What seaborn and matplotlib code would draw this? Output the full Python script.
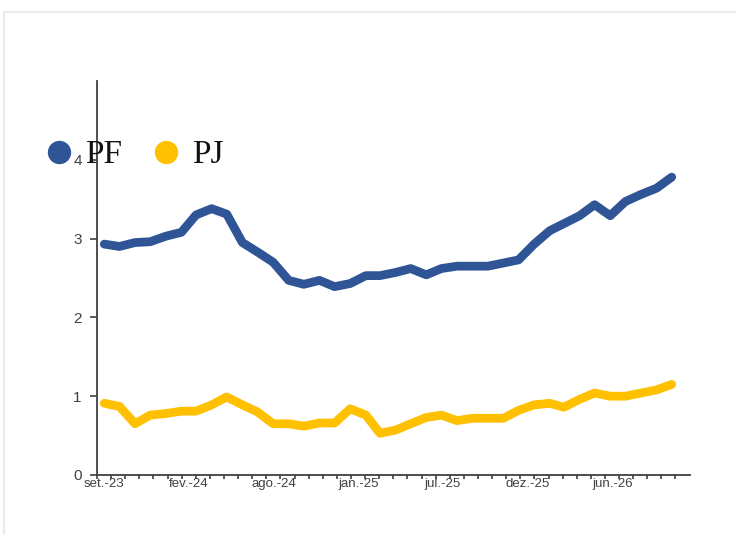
import matplotlib
matplotlib.use("Agg")
import numpy as np
import pandas as pd
import matplotlib.pyplot as plt
import matplotlib.dates as mdates
import seaborn as sns
from matplotlib.lines import Line2D
from matplotlib.patches import Rectangle
from matplotlib.ticker import FixedLocator, FixedFormatter, NullFormatter

# Monthly series, set/2023 .. out/2026
months = pd.date_range("2023-09-01", "2026-10-01", freq="MS")
pf = [2.93, 2.90, 2.95, 2.96, 3.03, 3.08, 3.30, 3.38, 3.31, 2.95,
      2.83, 2.70, 2.47, 2.42, 2.47, 2.39, 2.43, 2.53, 2.53, 2.57,
      2.62, 2.54, 2.62, 2.65, 2.65, 2.65, 2.69, 2.73, 2.93, 3.10,
      3.19, 3.29, 3.43, 3.29, 3.47, 3.56, 3.64, 3.78]
pj = [0.91, 0.87, 0.65, 0.76, 0.78, 0.81, 0.81, 0.89, 0.99, 0.89,
      0.80, 0.65, 0.65, 0.62, 0.66, 0.66, 0.84, 0.76, 0.53, 0.57,
      0.65, 0.73, 0.76, 0.69, 0.72, 0.72, 0.72, 0.82, 0.89, 0.91,
      0.86, 0.96, 1.04, 1.00, 1.00, 1.04, 1.08, 1.15]
series_names = ["PF", "PJ"]
colors = ["#2F5597", "#FFC000"]
x_tick_labels = ["set.-23", "fev.-24", "ago.-24", "jan.-25", "jul.-25", "dez.-25", "jun.-26"]
y_ticks = [0, 1, 2, 3, 4]

df = pd.DataFrame({
    "data": list(months) * 2,
    "valor": pf + pj,
    "serie": [series_names[0]] * len(pf) + [series_names[1]] * len(pj),
})

sns.set_style("white")
plt.rcParams["font.family"] = ["Liberation Sans", "DejaVu Sans"]

W, H = 736, 535
fig = plt.figure(figsize=(W / 100, H / 100), dpi=100)
fig.patch.set_facecolor("white")

# card outline
fig.patches.append(Rectangle((4 / W, -0.05), 1.2, 1 - 12 / H + 0.05,
                             transform=fig.transFigure, fill=False,
                             edgecolor="#ebebeb", linewidth=1.5, zorder=0))

ax = fig.add_axes([97 / W, 1 - 475 / H, (690 - 97) / W, (475 - 81) / H])
ax.set_facecolor("none")

sns.lineplot(data=df, x="data", y="valor", hue="serie",
             palette=dict(zip(series_names, colors)), linewidth=6.3,
             solid_capstyle="round", solid_joinstyle="round",
             legend=False, ax=ax)

start = pd.Timestamp("2023-09-01")
left = start - pd.Timedelta(days=14.5)
right = start + pd.Timedelta(days=1162.3)
ax.set_xlim(mdates.date2num(left), mdates.date2num(right))
ax.set_ylim(0, 5)

# labels every 168 days, small ticks every 28 days
major_pos = [mdates.date2num(start + pd.Timedelta(days=168 * k)) for k in range(len(x_tick_labels))]
minor_pos = [mdates.date2num(left + pd.Timedelta(days=28 * k)) for k in range(42)]
ax.xaxis.set_major_locator(FixedLocator(major_pos))
ax.xaxis.set_major_formatter(FixedFormatter(x_tick_labels))
ax.xaxis.set_minor_locator(FixedLocator(minor_pos))
ax.xaxis.set_minor_formatter(NullFormatter())
ax.tick_params(axis="x", which="major", length=0, pad=2.5, labelsize=9.5, labelcolor="#404040")
ax.tick_params(axis="x", which="minor", length=3, width=1.2, color="#404040", direction="out", bottom=True)

ax.set_yticks(y_ticks)
ax.set_yticklabels([str(v) for v in y_ticks])
ax.tick_params(axis="y", which="major", length=5, width=1.2, color="#404040", direction="out",
               left=True, pad=6, labelsize=11, labelcolor="#404040")

for side in ["top", "right"]:
    ax.spines[side].set_visible(False)
for side in ["left", "bottom"]:
    ax.spines[side].set_color("#404040")
    ax.spines[side].set_linewidth(1.3)

ax.set_xlabel("")
ax.set_ylabel("")

handles = [Line2D([], [], linestyle="", marker="o", markersize=15.8, color=c) for c in colors]
leg = ax.legend(handles, series_names, loc="center left",
                bbox_to_anchor=(47.5 / W, 1 - 155 / H), bbox_transform=fig.transFigure,
                ncol=2, frameon=False, handlelength=0.7, handletextpad=0.44,
                columnspacing=0.96, borderpad=0, borderaxespad=0,
                prop={"family": ["Liberation Serif"], "size": 24})
for t in leg.get_texts():
    t.set_color("#111111")

fig.savefig("out.png", dpi=100)
